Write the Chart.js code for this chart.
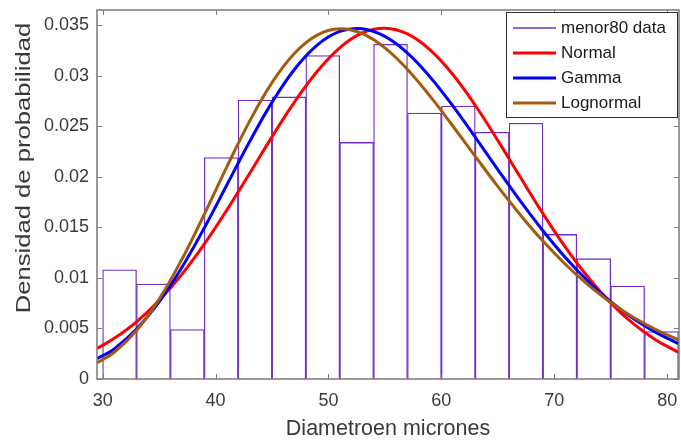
<!DOCTYPE html>
<html>
<head>
<meta charset="utf-8">
<script src="https://cdn.jsdelivr.net/npm/chart.js@4.4.1/dist/chart.umd.min.js"></script>
<style>
  html, body { margin: 0; padding: 0; background: #fff; }
  #wrap { width: 681px; height: 445px; }
</style>
</head>
<body>
<div id="wrap"><canvas id="histChart" width="681" height="445"></canvas></div>
<script>
// Histogram of diameters (bins 3 microns wide), densities
const binCenters = [31.5, 34.5, 37.5, 40.5, 43.5, 46.5, 49.5, 52.5, 55.5, 58.5, 61.5, 64.5, 67.5, 70.5, 73.5, 76.5, 79.5];
const binDensity = [0.0108, 0.0094, 0.0049, 0.0219, 0.0276, 0.0279, 0.0320, 0.0234, 0.0331, 0.0263, 0.0270, 0.0244, 0.0253, 0.0143, 0.0119, 0.0092, 0.0047];

// Fitted curves
const curveX = [29.5, 31, 33, 35, 37, 39, 41, 43, 45, 47, 49, 51, 53, 55, 57, 59, 61, 63, 65, 67, 69, 71, 73, 75, 77, 79, 81];
const normalPdf = [0.00303, 0.00400, 0.00566, 0.00776, 0.01033, 0.01334, 0.01671, 0.02031, 0.02395, 0.02741, 0.03042, 0.03276, 0.03423, 0.03470, 0.03413, 0.03256, 0.03015, 0.02708, 0.02360, 0.01995, 0.01636, 0.01302, 0.01006, 0.00753, 0.00547, 0.00386, 0.00264];
const gammaPdf = [0.00200, 0.00295, 0.00493, 0.00762, 0.01100, 0.01494, 0.01919, 0.02344, 0.02736, 0.03064, 0.03303, 0.03438, 0.03465, 0.03389, 0.03224, 0.02988, 0.02704, 0.02392, 0.02072, 0.01760, 0.01466, 0.01200, 0.00967, 0.00766, 0.00598, 0.00461, 0.00350];
const lognormalPdf = [0.00160, 0.00262, 0.00480, 0.00789, 0.01180, 0.01629, 0.02099, 0.02546, 0.02931, 0.03222, 0.03401, 0.03464, 0.03416, 0.03276, 0.03062, 0.02798, 0.02505, 0.02203, 0.01905, 0.01623, 0.01364, 0.01133, 0.00931, 0.00757, 0.00610, 0.00488, 0.00387];

const xTicks = [30, 40, 50, 60, 70, 80];
const yTicks = [0, 0.005, 0.01, 0.015, 0.02, 0.025, 0.03, 0.035];
const seriesNames = ["menor80 data", "Normal", "Gamma", "Lognormal"];
const yTitle = "Densidad de probabilidad";

const axisColor = "#7a7a7a";
const textColor = "#3a3a3a";
const fontFamily = "'Liberation Sans', Arial, Helvetica, sans-serif";

function toPoints(xs, ys) {
  return xs.map((x, i) => ({ x: x, y: ys[i] }));
}

// Draws the MATLAB-style box, inward ticks, y title and the legend
const boxPlugin = {
  id: "matlabBox",
  afterDatasetsDraw(chart) {
    const ctx = chart.ctx;
    const a = chart.chartArea;
    const xs = chart.scales.x;
    const ys = chart.scales.y;
    ctx.save();
    ctx.strokeStyle = axisColor;
    ctx.lineWidth = 1.5;
    ctx.strokeRect(a.left, a.top, a.right - a.left, a.bottom - a.top);

    ctx.lineWidth = 1;
    ctx.beginPath();
    xTicks.forEach((v) => {
      const px = Math.round(xs.getPixelForValue(v)) + 0.5;
      ctx.moveTo(px, a.bottom);
      ctx.lineTo(px, a.bottom - 5);
      ctx.moveTo(px, a.top);
      ctx.lineTo(px, a.top + 5);
    });
    yTicks.forEach((v) => {
      const py = Math.round(ys.getPixelForValue(v)) + 0.5;
      ctx.moveTo(a.left, py);
      ctx.lineTo(a.left + 5, py);
      ctx.moveTo(a.right, py);
      ctx.lineTo(a.right - 5, py);
    });
    ctx.stroke();

    // y axis title (rotated, a bit stretched like the original)
    ctx.save();
    ctx.translate(24, 168);
    ctx.rotate(-Math.PI / 2);
    ctx.scale(1.28, 1);
    ctx.font = "20px " + fontFamily;
    ctx.fillStyle = textColor;
    ctx.textAlign = "center";
    ctx.textBaseline = "middle";
    ctx.fillText(yTitle, 0, 0);
    ctx.restore();

    // legend
    const lw = 171, lh = 105;
    const lx = a.right - 2 - lw;
    const ly = a.top + 2;
    ctx.fillStyle = "#fff";
    ctx.fillRect(lx, ly, lw, lh);
    ctx.strokeStyle = "#303030";
    ctx.lineWidth = 1;
    ctx.strokeRect(lx + 0.5, ly + 0.5, lw, lh);
    ctx.font = "17px " + fontFamily;
    ctx.textBaseline = "middle";
    ctx.textAlign = "left";
    chart.data.datasets.forEach((ds, i) => {
      const cy = ly + 16 + i * 25;
      ctx.strokeStyle = ds.borderColor;
      ctx.lineWidth = i === 0 ? 1.5 : 3;
      ctx.beginPath();
      ctx.moveTo(lx + 7, cy);
      ctx.lineTo(lx + 50, cy);
      ctx.stroke();
      ctx.fillStyle = "#1a1a1a";
      ctx.fillText(ds.label, lx + 55, cy);
    });
    ctx.restore();
  },
};

const ctx = document.getElementById("histChart").getContext("2d");
new Chart(ctx, {
  type: "bar",
  data: {
    datasets: [
      {
        type: "bar",
        label: seriesNames[0],
        data: toPoints(binCenters, binDensity),
        backgroundColor: "#ffffff",
        borderColor: "#7030c8",
        borderWidth: 1.3,
        barPercentage: 1,
        categoryPercentage: 1,
        order: 4,
      },
      {
        type: "line",
        label: seriesNames[1],
        data: toPoints(curveX, normalPdf),
        borderColor: "#ff0000",
        borderWidth: 3,
        pointRadius: 0,
        tension: 0.4,
        fill: false,
        order: 3,
      },
      {
        type: "line",
        label: seriesNames[2],
        data: toPoints(curveX, gammaPdf),
        borderColor: "#0000ff",
        borderWidth: 3,
        pointRadius: 0,
        tension: 0.4,
        fill: false,
        order: 2,
      },
      {
        type: "line",
        label: seriesNames[3],
        data: toPoints(curveX, lognormalPdf),
        borderColor: "#a65a0c",
        borderWidth: 3,
        pointRadius: 0,
        tension: 0.4,
        fill: false,
        order: 1,
      },
    ],
  },
  options: {
    responsive: false,
    animation: false,
    devicePixelRatio: 1,
    layout: { padding: { left: 0, right: 2, top: 10, bottom: 0 } },
    plugins: {
      legend: { display: false },
      tooltip: { enabled: false },
    },
    scales: {
      x: {
        type: "linear",
        offset: false,
        min: 29.5,
        max: 81.05,
        grid: { display: false, drawTicks: false },
        border: { display: false },
        afterBuildTicks: (scale) => {
          scale.ticks = xTicks.map((v) => ({ value: v }));
        },
        afterFit: (scale) => {
          scale.height = 66;
          scale.paddingLeft = 0;
          scale.paddingRight = 0;
        },
        ticks: {
          padding: 11,
          color: textColor,
          font: { family: fontFamily, size: 18 },
          callback: (v) => String(v),
        },
        title: {
          display: true,
          text: "Diametroen micrones",
          color: textColor,
          font: { family: fontFamily, size: 21.5 },
          padding: { top: 0, bottom: 3 },
        },
      },
      y: {
        type: "linear",
        min: 0,
        max: 0.0365,
        grid: { display: false, drawTicks: false },
        border: { display: false },
        afterBuildTicks: (scale) => {
          scale.ticks = yTicks.map((v) => ({ value: v }));
        },
        afterFit: (scale) => {
          scale.width = 97;
          scale.paddingTop = 0;
          scale.paddingBottom = 0;
        },
        ticks: {
          padding: 8,
          color: textColor,
          font: { family: fontFamily, size: 18 },
          callback: (v) => String(v),
        },
      },
    },
  },
  plugins: [boxPlugin],
});
</script>
</body>
</html>
